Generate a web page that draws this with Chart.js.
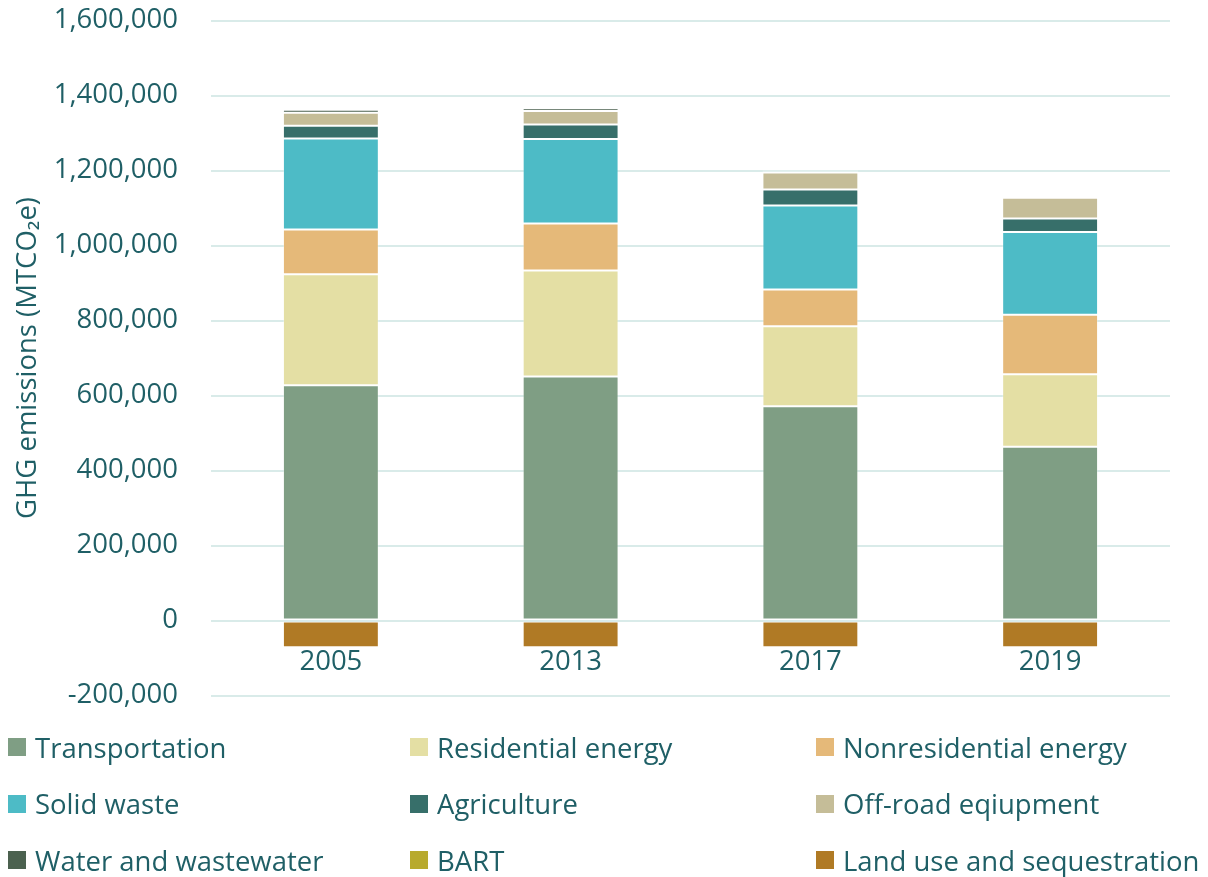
<!DOCTYPE html>
<html>
<head>
<meta charset="utf-8">
<script src="https://cdn.jsdelivr.net/npm/chart.js@4/dist/chart.umd.min.js"></script>
<style>
  body { margin: 0; background: #fff; font-family: "Open Sans", sans-serif; overflow: hidden; }
  #wrap { position: relative; width: 1208px; height: 877px; overflow: hidden; }
  #chartBox { position: absolute; left: 0; top: -29px; width: 1208px; height: 774px; }
  #legend { position: absolute; left: 8px; top: 728px; width: 1200px; display: grid;
            grid-template-columns: 402px 406px 392px; grid-auto-rows: 56.5px; color: #1f5f66; font-size: 27.5px; }
  .item { display: flex; align-items: center; height: 38px; white-space: nowrap; }
  .box { width: 18px; height: 18px; margin-right: 9px; flex: none; }
</style>
</head>
<body>
<div id="wrap">
  <div id="chartBox"><canvas id="myChart"></canvas></div>
  <div id="legend"></div>
</div>
<script>
var years = ["2005", "2013", "2017", "2019"];

var transportation = [627500, 650700, 571500, 463100];
var residential = [296000, 282700, 213300, 193800];
var nonresidential = [119000, 125300, 97800, 158400];
var solidWaste = [243000, 225000, 224000, 221000];
var agriculture = [34000, 39000, 43000, 36000];
var offRoad = [34700, 36000, 45000, 55000];
var water = [8000, 7000, 4000, 5000];
var bart = [2000, 2000, 2000, 1000];
var landUse = [-71000, -71000, -71000, -71000];

var yTicks = { min: -200000, max: 1600000, step: 200000 };

var textColor = '#1f5f66';
var gridColor = '#d9ebe9';
var font = { family: 'Open Sans', size: 27.5 };

function ds(label, data, color) {
  return {
    label: label,
    data: data,
    backgroundColor: color,
    borderColor: 'rgba(255,255,255,0.3)',
    borderWidth: 1,
    borderSkipped: false,
    barPercentage: 0.8,
    categoryPercentage: 0.5
  };
}

var ctx = document.getElementById('myChart').getContext('2d');

var chart = new Chart(ctx, {
  type: 'bar',
  data: {
    labels: years,
    datasets: [
      ds("Transportation", transportation, '#7f9e84'),
      ds("Residential energy", residential, '#e4dfa4'),
      ds("Nonresidential energy", nonresidential, '#e5b979'),
      ds("Solid waste", solidWaste, '#4dbbc6'),
      ds("Agriculture", agriculture, '#376f6a'),
      ds("Off-road eqiupment", offRoad, '#c5bd98'),
      ds("Water and wastewater", water, '#4b614f'),
      ds("BART", bart, '#b8aa2e'),
      ds("Land use and sequestration", landUse, '#b07a25')
    ]
  },
  options: {
    responsive: true,
    maintainAspectRatio: false,
    animation: false,
    layout: { padding: { top: 20, right: 38, bottom: 25, left: 12 } },
    plugins: {
      legend: { display: false },
      tooltip: { enabled: false }
    },
    scales: {
      x: {
        stacked: true,
        position: { y: 0 },
        grid: { display: false },
        border: { display: false },
        ticks: { color: textColor, font: font, padding: 17 },
        afterFit: function(scale) { scale.height = 0; }
      },
      y: {
        stacked: true,
        min: yTicks.min,
        max: yTicks.max,
        ticks: {
          stepSize: yTicks.step,
          color: textColor,
          font: font,
          padding: 33,
          callback: function(v) { return v.toLocaleString('en-US'); }
        },
        grid: { color: gridColor, lineWidth: 2, drawTicks: false },
        border: { display: false },
        title: {
          display: true,
          text: 'GHG emissions (MTCO\u2082e)',
          color: textColor,
          font: font,
          padding: { top: 0, bottom: 0 }
        },
        afterFit: function(scale) { scale.width = 199; }
      }
    }
  }
});

// legend in three columns, built from the datasets
var legendEl = document.getElementById('legend');
chart.data.datasets.forEach(function(d) {
  var item = document.createElement('div');
  item.className = 'item';
  var box = document.createElement('span');
  box.className = 'box';
  box.style.background = d.backgroundColor;
  var txt = document.createElement('span');
  txt.textContent = d.label;
  item.appendChild(box);
  item.appendChild(txt);
  legendEl.appendChild(item);
});
</script>
</body>
</html>
